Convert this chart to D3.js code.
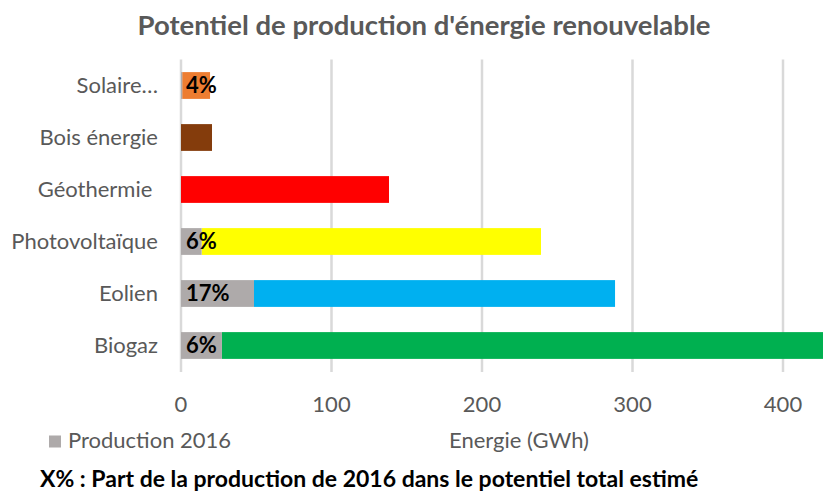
<!DOCTYPE html>
<html><head><meta charset="utf-8">
<script src="https://cdn.jsdelivr.net/npm/d3@7/dist/d3.min.js"></script>
<style>body{margin:0;background:#fff}svg{display:block}text{font-family:Lato,"Open Sans",sans-serif;white-space:pre}</style>
</head><body><svg id="c" width="823" height="492"></svg>
<script>
const categories = ["Solaire…","Bois énergie","Géothermie ","Photovoltaïque","Eolien","Biogaz"];
const production2016 = [0.8, 0, 0, 13.7, 48.5, 27.2];
const potentielTotal = [19.3, 20.6, 138.2, 239.2, 288.4, 450];
const shareLabels = ["4%", "", "", "6%", "17%", "6%"];
const colors = ["#ED7D31","#843C0C","#FF0000","#FFFF00","#00B0F0","#00B050"];
const ticks = [0,100,200,300,400];

const svg = d3.select("#c");
const x = d3.scaleLinear().domain([0,500]).range([181, 933.5]);
const y = d3.scaleBand().domain(categories).range([59.5, 371.5]).paddingInner(0.485).paddingOuter(0.2425);

svg.append("text").attr("x",424).attr("y",35).attr("text-anchor","middle")
  .attr("font-size",27.5).attr("font-weight","bold").attr("fill","#595959")
  .text("Potentiel de production d'énergie renouvelable");

// gridlines
svg.append("g").selectAll("line").data(ticks).join("line")
  .attr("x1",d=>x(d)).attr("x2",d=>x(d)).attr("y1",59.5).attr("y2",372)
  .attr("stroke","#d9d9d9").attr("stroke-width",2.5);

const rows = categories.map((c,i)=>({c, p:production2016[i], t:potentielTotal[i], col:colors[i], lab:shareLabels[i]}));
const g = svg.append("g");
g.selectAll(".rest").data(rows).join("rect")
  .attr("x",d=>x(d.p)).attr("y",d=>y(d.c)).attr("width",d=>x(d.t)-x(d.p)).attr("height",y.bandwidth())
  .attr("fill",d=>d.col);
g.selectAll(".prod").data(rows.filter(d=>d.p>0)).join("rect")
  .attr("x",x(0)).attr("y",d=>y(d.c)).attr("width",d=>x(d.p)-x(0)).attr("height",y.bandwidth())
  .attr("fill","#AEAAAA");
g.selectAll(".lab").data(rows.filter(d=>d.lab)).join("text")
  .attr("x",186).attr("y",d=>y(d.c)+y.bandwidth()/2+7.5)
  .attr("font-size",22).attr("font-weight","bold").attr("fill","#000").text(d=>d.lab);

// category labels
svg.append("g").selectAll("text").data(categories).join("text")
  .attr("x",158).attr("y",d=>y(d)+y.bandwidth()/2+7).attr("text-anchor","end")
  .attr("font-size",22).attr("fill","#595959").text(d=>d);

// tick labels
svg.append("g").selectAll("text").data(ticks).join("text")
  .attr("x",d=>x(d)).attr("y",412).attr("text-anchor","middle")
  .attr("font-size",22).attr("fill","#595959").text(d=>d);

// legend
svg.append("rect").attr("x",49).attr("y",435.5).attr("width",12).attr("height",12).attr("fill","#AEAAAA");
svg.append("text").attr("x",68).attr("y",448).attr("font-size",22).attr("fill","#595959").text("Production 2016");
svg.append("text").attr("x",519).attr("y",448).attr("text-anchor","middle").attr("font-size",22).attr("fill","#595959").text("Energie (GWh)");

svg.append("text").attr("x",40).attr("y",486.5).attr("font-size",23).attr("font-weight","bold").attr("fill","#000")
  .text("X% : Part de la production de 2016 dans le potentiel total estimé");
</script></body></html>
